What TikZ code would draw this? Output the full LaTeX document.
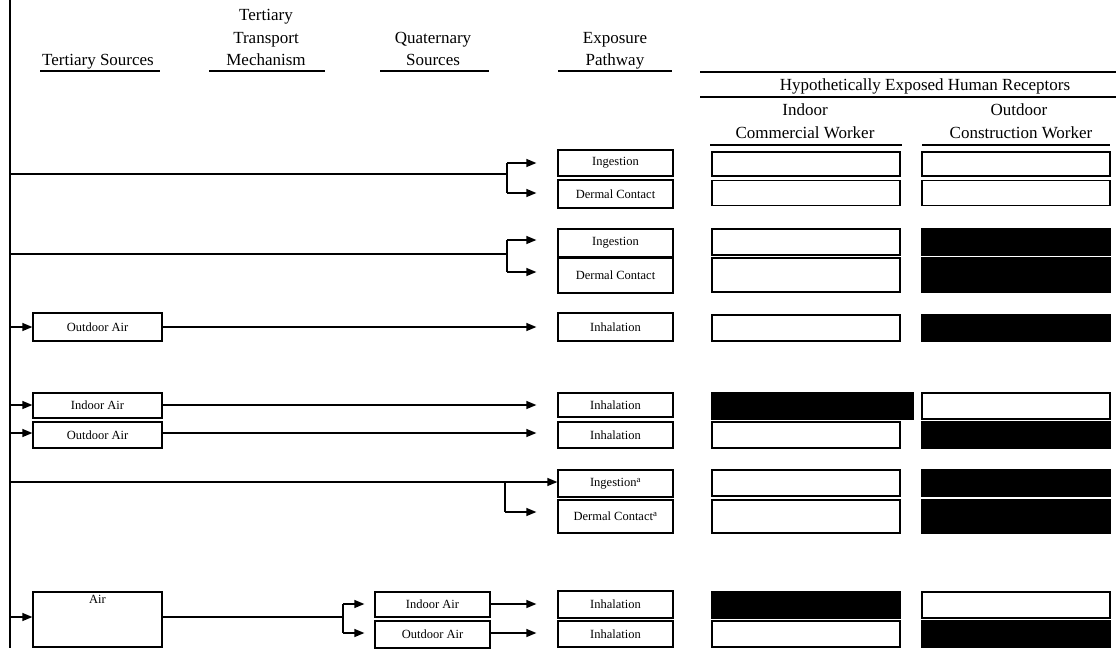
\documentclass[tikz,border=0pt]{standalone}
\usepackage{fontspec}
\setmainfont{Liberation Serif}
\usetikzlibrary{arrows.meta}
\begin{document}
\begin{tikzpicture}[x=1pt,y=-1pt,
  ln/.style={line width=1.3pt},
  box/.style={draw, line width=1.3pt, inner sep=0pt, font=\fontsize{12.5}{14}\selectfont},
  pbox/.style={box, minimum width=115pt},
  tbox/.style={box, minimum width=129pt},
  rbox/.style={draw, line width=1.3pt, inner sep=0pt, minimum width=188pt},
  blk/.style={fill=black},
  hdr/.style={font=\fontsize{17}{21}\selectfont, inner sep=0pt, anchor=base},
  arr/.style={line width=1.3pt, -{Triangle[length=10pt,width=8pt]}}]
\useasboundingbox (0,0) rectangle (1116,648);

% left bar
\coordinate (barT) at (10,0);
\coordinate (barB) at (10,648);
\draw[ln] (barT) -- (barB);

% headers
\node[hdr] (hTS) at (98,65) {Tertiary Sources};
\node[hdr] (hTTa) at (266,20) {Tertiary};
\node[hdr] (hTTb) at (266,43) {Transport};
\node[hdr] (hTTc) at (266,65) {Mechanism};
\node[hdr] (hQSa) at (433,43) {Quaternary};
\node[hdr] (hQSb) at (433,65) {Sources};
\node[hdr] (hEPa) at (615,43) {Exposure};
\node[hdr] (hEPb) at (615,65) {Pathway};
\draw[ln] (40,71) -- (160,71);
\draw[ln] (209,71) -- (325,71);
\draw[ln] (380,71) -- (489,71);
\draw[ln] (558,71) -- (672,71);

\draw[ln] (700,72) -- (1116,72);
\node[hdr] (hHE) at (925,90) {Hypothetically Exposed Human Receptors};
\draw[ln] (700,97) -- (1116,97);
\node[hdr] (hI1) at (805,115) {Indoor};
\node[hdr] (hI2) at (805,138) {Commercial Worker};
\node[hdr] (hO1) at (1019,115) {Outdoor};
\node[hdr] (hO2) at (1021,138) {Construction Worker};
\draw[ln] (710,145) -- (902,145);
\draw[ln] (922,145) -- (1110,145);

% pathway boxes
\node[pbox, minimum height=26pt] (P1) at (615.5,163) {Ingestion};
\node[pbox, minimum height=28pt] (P2) at (615.5,194) {Dermal Contact};
\node[pbox, minimum height=28pt] (P3) at (615.5,243) {Ingestion};
\node[pbox, minimum height=35pt] (P4) at (615.5,275.5) {Dermal Contact};
\node[pbox, minimum height=28pt] (P5) at (615.5,327) {Inhalation};
\node[pbox, minimum height=24pt] (P6) at (615.5,405) {Inhalation};
\node[pbox, minimum height=26pt] (P7) at (615.5,435) {Inhalation};
\node[pbox, minimum height=27pt] (P8) at (615.5,483.5) {Ingestion\textsuperscript{a}};
\node[pbox, minimum height=33pt] (P9) at (615.5,516.5) {Dermal Contact\textsuperscript{a}};
\node[pbox, minimum height=27pt] (P10) at (615.5,604.5) {Inhalation};
\node[pbox, minimum height=26pt] (P11) at (615.5,634) {Inhalation};

% receptor boxes
\node[rbox, minimum height=24pt] (I1) at (806,164) {};
\node[rbox, minimum height=24pt] (O1) at (1016,164) {};
\node[rbox, minimum height=25pt] (I2) at (806,193) {};
\node[rbox, minimum height=25pt] (O2) at (1016,193) {};
\node[rbox, minimum height=26pt] (I3) at (806,242) {};
\node[rbox, blk, minimum height=26pt] (O3) at (1016,242) {};
\node[rbox, minimum height=34pt] (I4) at (806,275) {};
\node[rbox, blk, minimum height=34pt] (O4) at (1016,275) {};
\node[rbox, minimum height=26pt] (I5) at (806,328) {};
\node[rbox, blk, minimum height=26pt] (O5) at (1016,328) {};
\node[rbox, blk, minimum width=201pt, minimum height=26pt] (I6) at (812.5,406) {};
\node[rbox, minimum height=26pt] (O6) at (1016,406) {};
\node[rbox, minimum height=26pt] (I7) at (806,435) {};
\node[rbox, blk, minimum height=26pt] (O7) at (1016,435) {};
\node[rbox, minimum height=26pt] (I8) at (806,483) {};
\node[rbox, blk, minimum height=26pt] (O8) at (1016,483) {};
\node[rbox, minimum height=33pt] (I9) at (806,516.5) {};
\node[rbox, blk, minimum height=33pt] (O9) at (1016,516.5) {};
\node[rbox, blk, minimum height=26pt] (I10) at (806,605) {};
\node[rbox, minimum height=26pt] (O10) at (1016,605) {};
\node[rbox, minimum height=26pt] (I11) at (806,634) {};
\node[rbox, blk, minimum height=26pt] (O11) at (1016,634) {};

% tertiary source boxes
\node[tbox, minimum height=28pt] (T5) at (97.5,327) {Outdoor Air};
\node[tbox, minimum height=25pt] (T6) at (97.5,405.5) {Indoor Air};
\node[tbox, minimum height=26pt] (T7) at (97.5,435) {Outdoor Air};
\node[tbox, minimum height=55pt] (TA) at (97.5,619.5) {};
\node[font=\fontsize{12.5}{14}\selectfont, inner sep=0pt] (TAt) at (97.5,599) {Air};

% quaternary boxes
\node[pbox, minimum height=25pt] (QI) at (432.5,604.5) {Indoor Air};
\node[pbox, minimum height=27pt] (QO) at (432.5,634.5) {Outdoor Air};

% rows 1-2
\coordinate (L1) at (10,174);
\coordinate (B1) at (507,174);
\coordinate (B1t) at (507,163);
\coordinate (B1b) at (507,193);
\draw[ln] (L1) -- (B1);
\draw[ln] (B1t) -- (B1b);
\draw[arr] (B1t) -- ([xshift=-21pt]P1.west |- B1t);
\draw[arr] (B1b) -- ([xshift=-21pt]P2.west |- B1b);

% rows 3-4
\coordinate (L3) at (10,254);
\coordinate (B3) at (507,254);
\coordinate (B3t) at (507,240);
\coordinate (B3b) at (507,272);
\draw[ln] (L3) -- (B3);
\draw[ln] (B3t) -- (B3b);
\draw[arr] (B3t) -- ([xshift=-21pt]P3.west |- B3t);
\draw[arr] (B3b) -- ([xshift=-21pt]P4.west |- B3b);

% row 5
\coordinate (L5) at (10,327);
\draw[arr] (L5) -- (T5.west |- L5);
\draw[arr] (T5.east) -- ([xshift=-21pt]P5.west);

% rows 6-7
\coordinate (L6) at (10,405);
\coordinate (L7) at (10,433);
\draw[arr] (L6) -- (T6.west |- L6);
\draw[arr] (L7) -- (T7.west |- L7);
\draw[arr] (T6.east |- L6) -- ([xshift=-21pt]P6.west |- L6);
\draw[arr] (T7.east |- L7) -- ([xshift=-21pt]P7.west |- L7);

% rows 8-9
\coordinate (L8) at (10,482);
\coordinate (B8) at (505,482);
\coordinate (B8b) at (505,512);
\draw[arr] (L8) -- (P8.west |- L8);
\draw[ln] (B8) -- (B8b);
\draw[arr] (B8b) -- ([xshift=-21pt]P9.west |- B8b);

% rows 10-11
\coordinate (LA) at (10,617);
\coordinate (BA) at (343,617);
\coordinate (BAt) at (343,604);
\coordinate (BAb) at (343,633);
\draw[arr] (LA) -- (TA.west |- LA);
\draw[ln] (TA.east |- LA) -- (BA);
\draw[ln] (BAt) -- (BAb);
\draw[arr] (BAt) -- ([xshift=-10pt]QI.west |- BAt);
\draw[arr] (BAb) -- ([xshift=-10pt]QO.west |- BAb);
\draw[arr] (QI.east |- BAt) -- ([xshift=-21pt]P10.west |- BAt);
\draw[arr] (QO.east |- BAb) -- ([xshift=-21pt]P11.west |- BAb);
\end{tikzpicture}
\end{document}
